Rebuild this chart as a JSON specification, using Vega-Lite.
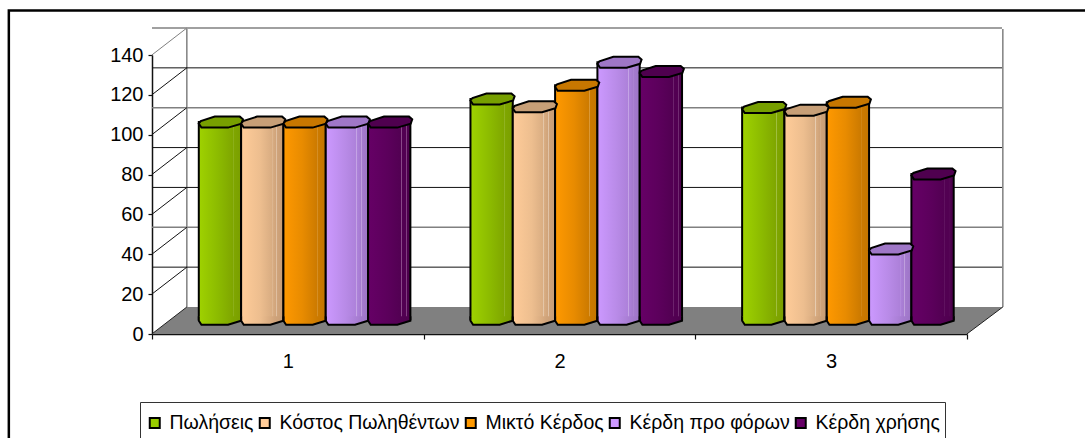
{
  "$schema": "https://vega.github.io/schema/vega-lite/v6.json",
  "width": 815,
  "height": 279,
  "autosize": "none",
  "padding": {"left": 152, "top": 55, "right": 118, "bottom": 104},
  "background": "white",
  "config": {
    "font": "Liberation Sans",
    "view": {"stroke": null},
    "axis": {"labelColor": "#000", "labelFontSize": 20, "labelFont": "Liberation Sans", "domainColor": "#111", "tickColor": "#111", "domainWidth": 1.5, "tickWidth": 1.2, "grid": false, "title": null}
  },
  "datasets": {
    "rows": [
      {"cat": "1", "series": "Πωλήσεις", "value": 100},
      {"cat": "1", "series": "Κόστος Πωληθέντων", "value": 100},
      {"cat": "1", "series": "Μικτό Κέρδος", "value": 100},
      {"cat": "1", "series": "Κέρδη προ φόρων", "value": 100},
      {"cat": "1", "series": "Κέρδη χρήσης", "value": 100},
      {"cat": "2", "series": "Πωλήσεις", "value": 111.6},
      {"cat": "2", "series": "Κόστος Πωληθέντων", "value": 107.7},
      {"cat": "2", "series": "Μικτό Κέρδος", "value": 118.5},
      {"cat": "2", "series": "Κέρδη προ φόρων", "value": 130},
      {"cat": "2", "series": "Κέρδη χρήσης", "value": 125.4},
      {"cat": "3", "series": "Πωλήσεις", "value": 107.3},
      {"cat": "3", "series": "Κόστος Πωληθέντων", "value": 106},
      {"cat": "3", "series": "Μικτό Κέρδος", "value": 110},
      {"cat": "3", "series": "Κέρδη προ φόρων", "value": 36.3},
      {"cat": "3", "series": "Κέρδη χρήσης", "value": 74}
    ],
    "levels": [
      {"cat": "1", "level": 20}, {"cat": "1", "level": 40}, {"cat": "1", "level": 60}, {"cat": "1", "level": 80},
      {"cat": "1", "level": 100}, {"cat": "1", "level": 120}, {"cat": "1", "level": 140}
    ],
    "anchor": [{"cat": "1", "level": 0}]
  },
  "layer": [
    {
      "data": {"name": "anchor"},
      "mark": {"type": "point", "filled": true, "size": 4, "opacity": 1, "fill": "#808080", "strokeWidth": 0,
        "shape": "M-136,0 L679,0 L715,-27 L-101,-27 Z"},
      "encoding": {
        "x": {"field": "cat", "type": "nominal", "scale": {"domain": ["1", "2", "3"], "paddingInner": 0, "paddingOuter": 0},
          "axis": {"tickBand": "extent", "labelAngle": 0, "tickSize": 5, "labelPadding": 12}},
        "y": {"field": "level", "type": "quantitative", "scale": {"domain": [0, 140], "nice": false},
          "axis": {"values": [0, 20, 40, 60, 80, 100, 120, 140], "tickCount": 8, "labelOverlap": false, "labelSeparation": 0, "tickSize": 4, "labelPadding": 5}}
      }
    },
    {
      "data": {"name": "anchor"},
      "mark": {"type": "point", "filled": false, "size": 4, "opacity": 1, "stroke": "#808080", "strokeWidth": 1.5,
        "shape": "M-101,-27 L-101,-305 M715,-27 L715,-305"},
      "encoding": {
        "x": {"field": "cat", "type": "nominal"},
        "y": {"field": "level", "type": "quantitative"}
      }
    },
    {
      "data": {"name": "anchor"},
      "mark": {"type": "point", "filled": false, "size": 4, "opacity": 1, "stroke": "#222", "strokeWidth": 1,
        "shape": "M679,0 L715,-27 M-136,0 L-101,-27"},
      "encoding": {
        "x": {"field": "cat", "type": "nominal"},
        "y": {"field": "level", "type": "quantitative"}
      }
    },
    {
      "data": {"name": "levels"},
      "mark": {"type": "rule", "xOffset": 35, "yOffset": -27},
      "encoding": {
        "y": {"field": "level", "type": "quantitative"},
        "stroke": {"condition": {"test": "datum.level === 140 || datum.level === 100 || datum.level === 40", "value": "#808080"}, "value": "#111"},
        "strokeWidth": {"condition": {"test": "datum.level === 140 || datum.level === 100 || datum.level === 40", "value": 1.5}, "value": 1}
      }
    },
    {
      "data": {"name": "levels"},
      "mark": {"type": "point", "filled": false, "size": 4, "opacity": 1, "strokeWidth": 1, "shape": "M-136,0 L-101,-27"},
      "encoding": {
        "x": {"field": "cat", "type": "nominal"},
        "y": {"field": "level", "type": "quantitative"},
        "stroke": {"condition": {"test": "datum.level === 140", "value": "#808080"}, "value": "#111"}
      }
    },
    {
      "data": {"name": "anchor"},
      "mark": {"type": "point", "filled": false, "size": 4, "opacity": 1, "stroke": "#000", "strokeWidth": 2.5,
        "shape": "M-279,110 L-279,-323.5 L800,-323.5"},
      "encoding": {
        "x": {"field": "cat", "type": "nominal"},
        "y": {"field": "level", "type": "quantitative"}
      }
    },
    {
      "data": {"name": "rows"},
      "transform": [{"filter": "datum.series === 'Πωλήσεις'"}],
      "mark": {"type": "bar", "yOffset": -12.6, "y2Offset": -14.8, "stroke": "#000", "strokeWidth": 2,
        "color": {"gradient": "linear", "x1": 0, "x2": 1, "y1": 0, "y2": 0, "stops": [{"offset": 0, "color": "#9FD200"}, {"offset": 0.45, "color": "#8CBB00"}, {"offset": 0.8, "color": "#7FA600"}, {"offset": 0.81, "color": "#A5C34A"}, {"offset": 0.825, "color": "#7FA600"}, {"offset": 1, "color": "#7A9E00"}]}},
      "encoding": {
        "x": {"field": "cat", "type": "nominal"},
        "xOffset": {"field": "series", "type": "nominal",
          "scale": {"domain": ["Πωλήσεις", "Κόστος Πωληθέντων", "Μικτό Κέρδος", "Κέρδη προ φόρων", "Κέρδη χρήσης"], "paddingInner": 0, "paddingOuter": 0.71, "range": [16.75, 288.42]}},
        "y": {"field": "value", "type": "quantitative"},
        "y2": {"datum": 0}
      }
    },
    {
      "data": {"name": "rows"},
      "transform": [{"filter": "datum.series === 'Πωλήσεις'"}],
      "mark": {"type": "point", "filled": true, "size": 4, "opacity": 1, "strokeWidth": 0, "yOffset": -14.8,
        "shape": "M-21,-3 L-21,1.5 L-18.5,5.5 L8.1,5.5 L21,1.5 L21,-3 Z",
        "color": {"gradient": "linear", "x1": 0, "x2": 1, "y1": 0, "y2": 0, "stops": [{"offset": 0, "color": "#9FD200"}, {"offset": 0.45, "color": "#8CBB00"}, {"offset": 0.8, "color": "#7FA600"}, {"offset": 1, "color": "#7A9E00"}]}},
      "encoding": {
        "x": {"field": "cat", "type": "nominal"},
        "xOffset": {"field": "series", "type": "nominal"},
        "y": {"datum": 0, "type": "quantitative"}
      }
    },
    {
      "data": {"name": "rows"},
      "transform": [{"filter": "datum.series === 'Κόστος Πωληθέντων'"}],
      "mark": {"type": "bar", "yOffset": -12.6, "y2Offset": -14.8, "stroke": "#000", "strokeWidth": 2,
        "color": {"gradient": "linear", "x1": 0, "x2": 1, "y1": 0, "y2": 0, "stops": [{"offset": 0, "color": "#FFCC99"}, {"offset": 0.45, "color": "#EDBE8F"}, {"offset": 0.72, "color": "#D9AD82"}, {"offset": 0.73, "color": "#ECD6C0"}, {"offset": 0.745, "color": "#D9AD82"}, {"offset": 0.83, "color": "#CFA37A"}, {"offset": 0.84, "color": "#E9D0B8"}, {"offset": 0.855, "color": "#CFA37A"}, {"offset": 1, "color": "#C69C75"}]}},
      "encoding": {
        "x": {"field": "cat", "type": "nominal"},
        "xOffset": {"field": "series", "type": "nominal"},
        "y": {"field": "value", "type": "quantitative"},
        "y2": {"datum": 0}
      }
    },
    {
      "data": {"name": "rows"},
      "transform": [{"filter": "datum.series === 'Κόστος Πωληθέντων'"}],
      "mark": {"type": "point", "filled": true, "size": 4, "opacity": 1, "strokeWidth": 0, "yOffset": -14.8,
        "shape": "M-21,-3 L-21,1.5 L-18.5,5.5 L8.1,5.5 L21,1.5 L21,-3 Z",
        "color": {"gradient": "linear", "x1": 0, "x2": 1, "y1": 0, "y2": 0, "stops": [{"offset": 0, "color": "#FFCC99"}, {"offset": 0.45, "color": "#EDBE8F"}, {"offset": 0.8, "color": "#CFA37A"}, {"offset": 1, "color": "#C69C75"}]}},
      "encoding": {
        "x": {"field": "cat", "type": "nominal"},
        "xOffset": {"field": "series", "type": "nominal"},
        "y": {"datum": 0, "type": "quantitative"}
      }
    },
    {
      "data": {"name": "rows"},
      "transform": [{"filter": "datum.series === 'Μικτό Κέρδος'"}],
      "mark": {"type": "bar", "yOffset": -12.6, "y2Offset": -14.8, "stroke": "#000", "strokeWidth": 2,
        "color": {"gradient": "linear", "x1": 0, "x2": 1, "y1": 0, "y2": 0, "stops": [{"offset": 0, "color": "#FF9900"}, {"offset": 0.45, "color": "#E88B00"}, {"offset": 0.8, "color": "#CC7A00"}, {"offset": 0.81, "color": "#DDA045"}, {"offset": 0.825, "color": "#CC7A00"}, {"offset": 1, "color": "#C47500"}]}},
      "encoding": {
        "x": {"field": "cat", "type": "nominal"},
        "xOffset": {"field": "series", "type": "nominal"},
        "y": {"field": "value", "type": "quantitative"},
        "y2": {"datum": 0}
      }
    },
    {
      "data": {"name": "rows"},
      "transform": [{"filter": "datum.series === 'Μικτό Κέρδος'"}],
      "mark": {"type": "point", "filled": true, "size": 4, "opacity": 1, "strokeWidth": 0, "yOffset": -14.8,
        "shape": "M-21,-3 L-21,1.5 L-18.5,5.5 L8.1,5.5 L21,1.5 L21,-3 Z",
        "color": {"gradient": "linear", "x1": 0, "x2": 1, "y1": 0, "y2": 0, "stops": [{"offset": 0, "color": "#FF9900"}, {"offset": 0.45, "color": "#E88B00"}, {"offset": 0.8, "color": "#CC7A00"}, {"offset": 1, "color": "#C47500"}]}},
      "encoding": {
        "x": {"field": "cat", "type": "nominal"},
        "xOffset": {"field": "series", "type": "nominal"},
        "y": {"datum": 0, "type": "quantitative"}
      }
    },
    {
      "data": {"name": "rows"},
      "transform": [{"filter": "datum.series === 'Κέρδη προ φόρων'"}],
      "mark": {"type": "bar", "yOffset": -12.6, "y2Offset": -14.8, "stroke": "#000", "strokeWidth": 2,
        "color": {"gradient": "linear", "x1": 0, "x2": 1, "y1": 0, "y2": 0, "stops": [{"offset": 0, "color": "#CC99FF"}, {"offset": 0.45, "color": "#B98BE8"}, {"offset": 0.72, "color": "#AD81DA"}, {"offset": 0.73, "color": "#CFB4EA"}, {"offset": 0.745, "color": "#AD81DA"}, {"offset": 0.83, "color": "#A57BCF"}, {"offset": 0.84, "color": "#C9AEE3"}, {"offset": 0.855, "color": "#A57BCF"}, {"offset": 1, "color": "#9D75C6"}]}},
      "encoding": {
        "x": {"field": "cat", "type": "nominal"},
        "xOffset": {"field": "series", "type": "nominal"},
        "y": {"field": "value", "type": "quantitative"},
        "y2": {"datum": 0}
      }
    },
    {
      "data": {"name": "rows"},
      "transform": [{"filter": "datum.series === 'Κέρδη προ φόρων'"}],
      "mark": {"type": "point", "filled": true, "size": 4, "opacity": 1, "strokeWidth": 0, "yOffset": -14.8,
        "shape": "M-21,-3 L-21,1.5 L-18.5,5.5 L8.1,5.5 L21,1.5 L21,-3 Z",
        "color": {"gradient": "linear", "x1": 0, "x2": 1, "y1": 0, "y2": 0, "stops": [{"offset": 0, "color": "#CC99FF"}, {"offset": 0.45, "color": "#B98BE8"}, {"offset": 0.8, "color": "#A57BCF"}, {"offset": 1, "color": "#9D75C6"}]}},
      "encoding": {
        "x": {"field": "cat", "type": "nominal"},
        "xOffset": {"field": "series", "type": "nominal"},
        "y": {"datum": 0, "type": "quantitative"}
      }
    },
    {
      "data": {"name": "rows"},
      "transform": [{"filter": "datum.series === 'Κέρδη χρήσης'"}],
      "mark": {"type": "bar", "yOffset": -12.6, "y2Offset": -14.8, "stroke": "#000", "strokeWidth": 2,
        "color": {"gradient": "linear", "x1": 0, "x2": 1, "y1": 0, "y2": 0, "stops": [{"offset": 0, "color": "#660066"}, {"offset": 0.45, "color": "#5C005C"}, {"offset": 0.78, "color": "#520052"}, {"offset": 0.79, "color": "#8A4A8A"}, {"offset": 0.805, "color": "#520052"}, {"offset": 0.9, "color": "#520052"}, {"offset": 0.91, "color": "#8A4A8A"}, {"offset": 0.925, "color": "#4D004D"}, {"offset": 1, "color": "#4D004D"}]}},
      "encoding": {
        "x": {"field": "cat", "type": "nominal"},
        "xOffset": {"field": "series", "type": "nominal"},
        "y": {"field": "value", "type": "quantitative"},
        "y2": {"datum": 0}
      }
    },
    {
      "data": {"name": "rows"},
      "transform": [{"filter": "datum.series === 'Κέρδη χρήσης'"}],
      "mark": {"type": "point", "filled": true, "size": 4, "opacity": 1, "strokeWidth": 0, "yOffset": -14.8,
        "shape": "M-21,-3 L-21,1.5 L-18.5,5.5 L8.1,5.5 L21,1.5 L21,-3 Z",
        "color": {"gradient": "linear", "x1": 0, "x2": 1, "y1": 0, "y2": 0, "stops": [{"offset": 0, "color": "#660066"}, {"offset": 0.45, "color": "#5C005C"}, {"offset": 0.8, "color": "#520052"}, {"offset": 1, "color": "#4D004D"}]}},
      "encoding": {
        "x": {"field": "cat", "type": "nominal"},
        "xOffset": {"field": "series", "type": "nominal"},
        "y": {"datum": 0, "type": "quantitative"}
      }
    },
    {
      "data": {"name": "rows"},
      "mark": {"type": "point", "filled": false, "size": 4, "opacity": 1, "stroke": "#000", "strokeWidth": 2, "yOffset": -14.8,
        "shape": "M-21.15,-3 L-21.15,1.5 L-18.5,5.5 L8.1,5.5 L21.15,1.5 L21.15,-3"},
      "encoding": {
        "x": {"field": "cat", "type": "nominal"},
        "xOffset": {"field": "series", "type": "nominal"},
        "y": {"datum": 0, "type": "quantitative"}
      }
    },
    {
      "data": {"name": "rows"},
      "mark": {"type": "point", "filled": true, "size": 4, "opacity": 1, "stroke": "#000", "strokeWidth": 2, "yOffset": -12.6,
        "shape": "M-21.2,1.5 L-18.5,5.5 L8.1,5.5 L21.5,1.5 L23,-2.8 L19.8,-5.5 L-5.2,-5.5 L-19.2,-1 Z"},
      "encoding": {
        "x": {"field": "cat", "type": "nominal"},
        "xOffset": {"field": "series", "type": "nominal"},
        "y": {"field": "value", "type": "quantitative"},
        "color": {"field": "series", "type": "nominal",
          "scale": {
            "domain": ["Πωλήσεις", "Κόστος Πωληθέντων", "Μικτό Κέρδος", "Κέρδη προ φόρων", "Κέρδη χρήσης"],
            "range": ["#99CC00", "#FFCC99", "#FF9900", "#CC99FF", "#660066"]
          },
          "legend": {
            "title": null, "orient": "none", "legendX": -12, "legendY": 347, "direction": "horizontal", "columns": 5,
            "symbolType": "square", "symbolSize": 100, "symbolStrokeColor": "#000", "symbolStrokeWidth": 2,
            "labelFontSize": 19.5, "labelFont": "Liberation Sans", "labelColor": "#000", "labelOffset": 5, "labelLimit": 300,
            "columnPadding": 1, "padding": 5, "clipHeight": 32, "strokeColor": "#333", "fillColor": "white"
          }
        }
      }
    },
    {
      "data": {"name": "rows"},
      "mark": {"type": "point", "filled": true, "size": 4, "opacity": 0.22, "fill": "#000", "strokeWidth": 0, "yOffset": -12.6,
        "shape": "M-21.2,1.5 L-18.5,5.5 L8.1,5.5 L21.5,1.5 L23,-2.8 L19.8,-5.5 L-5.2,-5.5 L-19.2,-1 Z"},
      "encoding": {
        "x": {"field": "cat", "type": "nominal"},
        "xOffset": {"field": "series", "type": "nominal"},
        "y": {"field": "value", "type": "quantitative"}
      }
    }
  ]
}
